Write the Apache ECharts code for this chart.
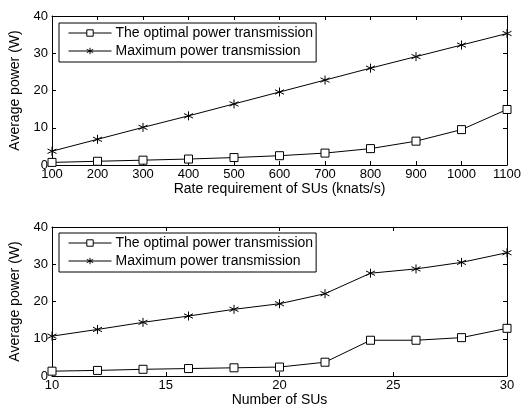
<!DOCTYPE html>
<html>
<head>
<meta charset="utf-8">
<script src="https://cdn.jsdelivr.net/npm/echarts@6/dist/echarts.min.js"></script>
<style>
html,body{margin:0;padding:0;background:#fff;}
#chart{width:530px;height:411px;}
</style>
</head>
<body>
<div id="chart"></div>
<script>
// Panel 1: average power vs. rate requirement
const rates = [100, 200, 300, 400, 500, 600, 700, 800, 900, 1000, 1100];
const optimalByRate = [0.7, 1.0, 1.3, 1.6, 2.0, 2.5, 3.2, 4.4, 6.4, 9.5, 14.9];
const maximumByRate = [3.7, 6.9, 10.1, 13.2, 16.4, 19.6, 22.8, 26.0, 29.1, 32.2, 35.3];

// Panel 2: average power vs. number of SUs
const numSUs = [10, 12, 14, 16, 18, 20, 22, 24, 26, 28, 30];
const optimalBySU = [1.3, 1.5, 1.8, 2.0, 2.2, 2.4, 3.7, 9.6, 9.6, 10.3, 12.8];
const maximumBySU = [10.7, 12.5, 14.4, 16.1, 17.9, 19.4, 22.1, 27.6, 28.75, 30.5, 33.1];

const seriesNames = ['The optimal power transmission', 'Maximum power transmission'];
const yLabel = 'Average power (W)';
const xLabels = ['Rate requirement of SUs (knats/s)', 'Number of SUs'];

const FONT = 'Liberation Sans, Arial, sans-serif';
const ASTERISK = 'path://M0,-5L0,5M-4.33,-2.5L4.33,2.5M-4.33,2.5L4.33,-2.5';

const pairs = (xs, ys) => xs.map((x, i) => [x, ys[i]]);
const plain = v => String(v);

function mainX(gi, min, max, interval, name) {
  return {
    type: 'value', gridIndex: gi, min, max, interval, position: 'bottom',
    name, nameLocation: 'middle', nameGap: 15,
    nameTextStyle: { fontFamily: FONT, fontSize: 14, color: '#000' },
    axisLine: { show: true, onZero: false, lineStyle: { color: '#000', width: 1 } },
    axisTick: { show: true, inside: true, length: 4, lineStyle: { color: '#000' } },
    axisLabel: { fontFamily: FONT, fontSize: 13, color: '#000', margin: 3, formatter: plain },
    splitLine: { show: false }
  };
}
function mirrorX(gi, min, max, interval) {
  return {
    type: 'value', gridIndex: gi, min, max, interval, position: 'top',
    axisLine: { show: true, onZero: false, lineStyle: { color: '#000', width: 1 } },
    axisTick: { show: true, inside: true, length: 4, lineStyle: { color: '#000' } },
    axisLabel: { show: false }, splitLine: { show: false }
  };
}
function mainY(gi) {
  return {
    type: 'value', gridIndex: gi, min: 0, max: 40, interval: 10, position: 'left',
    name: yLabel, nameLocation: 'middle', nameGap: 27,
    nameTextStyle: { fontFamily: FONT, fontSize: 14, color: '#000' },
    axisLine: { show: true, onZero: false, lineStyle: { color: '#000', width: 1 } },
    axisTick: { show: true, inside: true, length: 4, lineStyle: { color: '#000' } },
    axisLabel: { fontFamily: FONT, fontSize: 13, color: '#000', margin: 4, formatter: plain },
    splitLine: { show: false }
  };
}
function mirrorY(gi) {
  return {
    type: 'value', gridIndex: gi, min: 0, max: 40, interval: 10, position: 'right',
    axisLine: { show: true, onZero: false, lineStyle: { color: '#000', width: 1 } },
    axisTick: { show: true, inside: true, length: 4, lineStyle: { color: '#000' } },
    axisLabel: { show: false }, splitLine: { show: false }
  };
}

function optimalSeries(xi, yi, data) {
  return {
    name: seriesNames[0], type: 'line', xAxisIndex: xi, yAxisIndex: yi, data,
    symbol: 'rect', symbolSize: 8, showAllSymbol: true,
    lineStyle: { color: '#000', width: 1 },
    itemStyle: { color: '#fff', borderColor: '#000', borderWidth: 1 },
    emphasis: { disabled: true }, animation: false, z: 3
  };
}
function maximumSeries(xi, yi, data) {
  return {
    name: seriesNames[1], type: 'line', xAxisIndex: xi, yAxisIndex: yi, data,
    symbol: ASTERISK, symbolSize: 9, showAllSymbol: true,
    lineStyle: { color: '#000', width: 1 },
    itemStyle: { color: 'none', borderColor: '#000', borderWidth: 1 },
    emphasis: { disabled: true }, animation: false, z: 3
  };
}

function legendAt(top) {
  return {
    orient: 'vertical', left: 59, top: top,
    padding: [3, 3, 4, 9], itemGap: 4,
    itemWidth: 43, itemHeight: 8,
    borderColor: '#000', borderWidth: 1, backgroundColor: '#fff',
    data: [
      { name: seriesNames[0],
        itemStyle: { color: '#fff', borderColor: '#000', borderWidth: 1 } },
      { name: seriesNames[1],
        itemStyle: { color: 'none', borderColor: '#000', borderWidth: 1 } }
    ],
    lineStyle: { color: '#000', width: 1 },
    textStyle: { fontFamily: FONT, fontSize: 14, color: '#000', padding: [0, 0, 0, -1] },
    selectedMode: false
  };
}

const chart = echarts.init(document.getElementById('chart'), null, { renderer: 'canvas' });
chart.setOption({
  backgroundColor: '#fff',
  animation: false,
  grid: [
    { left: 52, right: 23, top: 16, height: 149 },
    { left: 52, right: 23, top: 227, height: 149 }
  ],
  legend: [legendAt(23), legendAt(233)],
  xAxis: [
    mainX(0, 100, 1100, 100, xLabels[0]), mirrorX(0, 100, 1100, 100),
    mainX(1, 10, 30, 5, xLabels[1]), mirrorX(1, 10, 30, 5)
  ],
  yAxis: [mainY(0), mirrorY(0), mainY(1), mirrorY(1)],
  series: [
    optimalSeries(0, 0, pairs(rates, optimalByRate)),
    maximumSeries(0, 0, pairs(rates, maximumByRate)),
    optimalSeries(2, 2, pairs(numSUs, optimalBySU)),
    maximumSeries(2, 2, pairs(numSUs, maximumBySU))
  ]
});
</script>
</body>
</html>
